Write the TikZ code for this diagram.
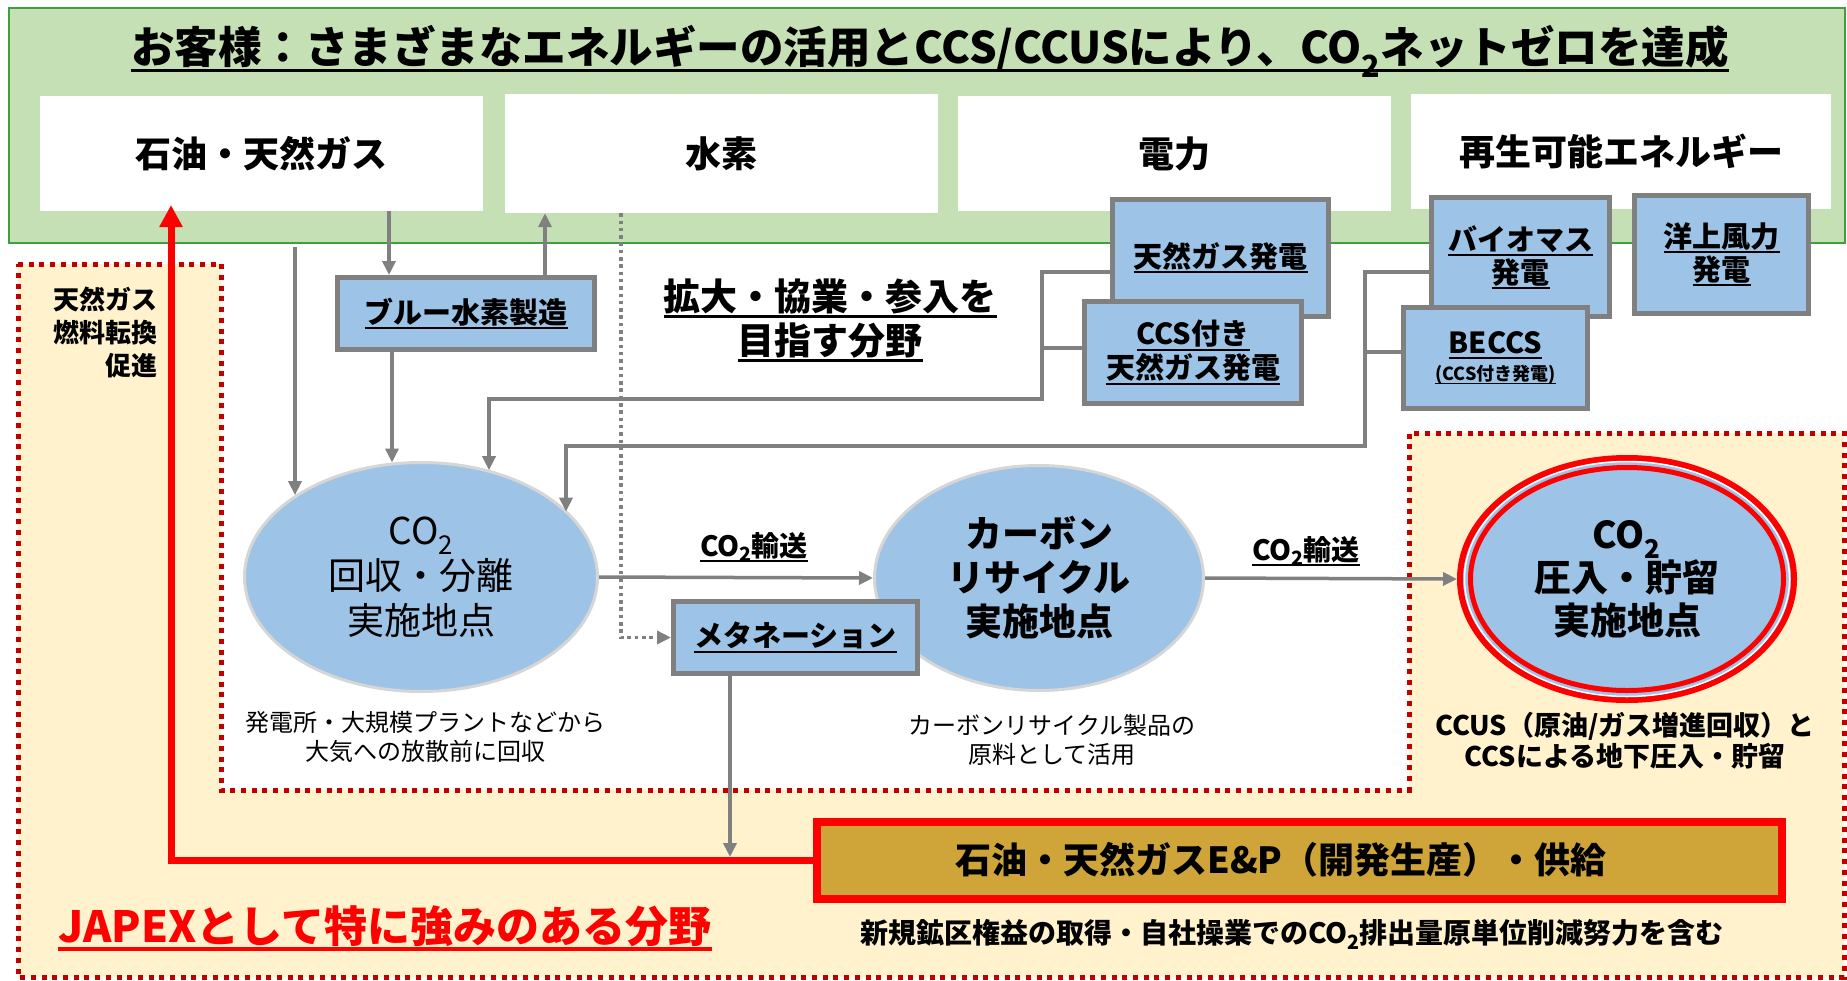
\documentclass[tikz,border=0pt]{standalone}
\usepackage{fontspec}
\setmainfont{Noto Sans CJK JP}
\usetikzlibrary{arrows.meta,shapes.geometric}
\definecolor{grn}{RGB}{197,224,180}
\definecolor{grnb}{RGB}{60,160,60}
\definecolor{ylw}{RGB}{255,242,204}
\definecolor{blu}{RGB}{157,195,230}
\definecolor{gry}{RGB}{128,128,128}
\definecolor{dred}{RGB}{192,0,0}
\definecolor{gold}{RGB}{207,165,58}
\definecolor{lgry}{RGB}{214,214,214}
\newcommand\fsz[2]{\fontsize{#1}{#2}\selectfont}
\newcommand\ulin[1]{\setbox0=\hbox{#1}\rlap{\rule[-0.2em]{\wd0}{0.075em}}\box0}
\newcommand\subtwo{\textsubscript{2}}
\begin{document}
\begin{tikzpicture}[x=1pt,y=-1pt,
  every node/.style={inner sep=0pt},
  wbox/.style={fill=white, draw=none, font=\fsz{36}{44}\bfseries},
  bbox/.style={fill=blu, draw=gry, line width=5pt, font=\fsz{29}{34}\bfseries, align=center},
  gline/.style={draw=gry, line width=3.5pt},
  garrow/.style={gline, -{Triangle[length=14pt,width=13pt]}},
  gdots/.style={draw=gry, line width=3.5pt, dash pattern=on 3.5pt off 3.8pt, -{Triangle[length=14pt,width=13pt]}},
  reddot/.style={draw=dred, line width=5pt, dash pattern=on 5pt off 5.7pt},
  ell/.style={ellipse, fill=blu, draw=lgry, line width=3pt, align=center},
  lbl/.style={font=\fsz{28}{34}\bfseries}
]
\useasboundingbox (0,0) rectangle (1847,980);
\fill[white] (0,0) rectangle (1847,980);

% green customer band
\path[fill=grn, draw=grnb, line width=2.5pt] (9,8) rectangle (1845,243);

% yellow strength area
\path[fill=ylw] (18,264) -- (221,264) -- (221,790) -- (1409,790) -- (1409,433) -- (1844,433) -- (1844,977) -- (18,977) -- cycle;
\path[reddot] (18,264) -- (221,264) -- (221,790) -- (1409,790) -- (1409,433) -- (1844,433) -- (1844,977) -- (18,977) -- cycle;

% title
\node[font=\fsz{43.5}{50}\bfseries] (title) at (930,51) {\ulin{お客様：さまざまなエネルギーの活用とCCS/CCUSにより、CO\subtwo ネットゼロを達成}};

% white energy boxes
\node[wbox, minimum width=443pt, minimum height=115pt] (oil) at (261.5,153.5) {石油・天然ガス};
\node[wbox, minimum width=433pt, minimum height=119pt] (h2) at (721.5,153.5) {水素};
\node[wbox, minimum width=433pt, minimum height=115pt] (elec) at (1174.5,153.5) {電力};
\node[wbox, minimum width=420pt, minimum height=115pt] (ren) at (1621,151.5) {再生可能エネルギー};

% coordinates for connectors
\coordinate (s1) at (295,247);
\coordinate (o1) at (389,0);
\coordinate (o2) at (545,0);
\coordinate (o3) at (392,0);
\coordinate (d1) at (621,0);
\coordinate (b1) at (1042,272);
\coordinate (b2) at (1042,348);
\coordinate (b3) at (1042,399);
\coordinate (k1) at (489,399);
\coordinate (c1) at (1365,272);
\coordinate (c2) at (1365,352);
\coordinate (c3) at (1365,446);
\coordinate (k2) at (566,446);
\coordinate (m1) at (730,857);
\coordinate (ra) at (171,205);

% ellipses
\node[ell, minimum width=353pt, minimum height=229pt, font=\fsz{37}{45}] (cap) at (421,577) {CO\subtwo\\回収・分離\\実施地点};
\node[ell, minimum width=329pt, minimum height=225pt, font=\fsz{37}{44}\bfseries] (carb) at (1039,578) {カーボン\\リサイクル\\実施地点};
\node[ellipse, fill=blu, draw=red, line width=6pt, minimum width=334pt, minimum height=242pt] (stor) at (1627,579) {};
\draw[white, line width=1.5pt] (stor.center) ellipse [x radius=162.5pt, y radius=117.5pt];
\draw[red, line width=5pt] (stor.center) ellipse [x radius=156.5pt, y radius=111.5pt];
\node[font=\fsz{37}{43}\bfseries, align=center] (stortxt) at (stor.center) {CO\subtwo\\圧入・貯留\\実施地点};

% blue boxes
\node[bbox, minimum width=257pt, minimum height=72pt] (blue) at (466,313.5) {\ulin{ブルー水素製造}};
\node[bbox, minimum width=216pt, minimum height=117pt] (ng) at (1220.5,258) {\ulin{天然ガス発電}};
\node[bbox, minimum width=217pt, minimum height=102pt] (ccsng) at (1193,352.5) {\ulin{CCS付き}\\\ulin{天然ガス発電}};
\node[bbox, minimum width=178pt, minimum height=119pt, font=\fsz{29}{33}\bfseries] (bio) at (1520.5,257) {\ulin{バイオマス}\\\ulin{発電}};
\node[bbox, minimum width=174pt, minimum height=118pt, font=\fsz{29}{33}\bfseries] (wind) at (1721.5,254.5) {\ulin{洋上風力}\\\ulin{発電}};
\node[bbox, minimum width=184pt, minimum height=101pt, font=\fsz{29}{27}\bfseries] (beccs) at (1495.5,358) {\ulin{BECCS}\\{\fsz{18}{22}\ulin{(CCS付き発電)}}};

% gray connectors
\draw[garrow] (s1) -- (s1 |- cap.147);
\draw[garrow] (o1 |- oil.south) -- (o1 |- blue.north);
\draw[garrow] (o2 |- blue.north) -- (o2 |- h2.south);
\draw[garrow] (o3 |- blue.south) -- (o3 |- cap.104.2);
\draw[garrow] (b1 -| ng.west) -- (b1) -- (b3) -- (k1) -- (k1 |- cap.57.6);
\draw[gline] (b2 -| ccsng.west) -- (b2);
\draw[garrow] (c1 -| bio.west) -- (c1) -- (c3) -- (k2) -- (k2 |- cap.24.9);
\draw[gline] (c2 -| beccs.west) -- (c2);
\draw[garrow] (cap.east) -- (carb.west);
\draw[garrow] (carb.east) -- (stor.west);

% methanation box above carbon ellipse
\node[bbox, minimum width=244pt, minimum height=72pt] (meta) at (795.5,637.5) {\ulin{メタネーション}};
\draw[gdots] (d1 |- h2.south) |- (meta.west);

% transport labels
\node[lbl] (tr1) at (754,547) {\ulin{CO\subtwo 輸送}};
\node[lbl] (tr2) at (1306,551) {\ulin{CO\subtwo 輸送}};

% expansion text
\node[font=\fsz{37}{44}\bfseries, align=center] (expand) at (830,320) {\ulin{拡大・協業・参入を}\\\ulin{目指す分野}};

% left text
\node[font=\fsz{26}{33}\bfseries, align=right, anchor=east] (fuel) at (158,332) {天然ガス\\燃料転換\\促進};

% captions
\node[font=\fsz{24}{29}, align=center] (capc) at (425,737) {発電所・大規模プラントなどから\\大気への放散前に回収};
\node[font=\fsz{24}{29}, align=center] (carbc) at (1052,740) {カーボンリサイクル製品の\\原料として活用};
\node[font=\fsz{27}{31}\bfseries, align=center] (storc) at (1625,741) {CCUS（原油/ガス増進回収）と\\CCSによる地下圧入・貯留};

% red strength line and E&P box
\node[fill=gold, draw=red, line width=8pt, minimum width=965pt, minimum height=77pt] (ep) at (1299.5,860.5) {};
\draw[red, line width=7pt, line join=miter, -{Triangle[length=22pt,width=22pt]}] (ep.west) -| (ra);
\node[font=\fsz{36}{44}\bfseries] (eptxt) at (1281,860) {石油・天然ガスE\&P（開発生産）・供給};
\draw[garrow] (m1 |- meta.south) -- (m1);
\node[font=\fsz{28}{34}\bfseries] (epc) at (1292,934) {新規鉱区権益の取得・自社操業でのCO\subtwo 排出量原単位削減努力を含む};
\node[font=\fsz{43}{50}\bfseries, text=red] (japex) at (385,928) {\ulin{JAPEXとして特に強みのある分野}};
\end{tikzpicture}
\end{document}
